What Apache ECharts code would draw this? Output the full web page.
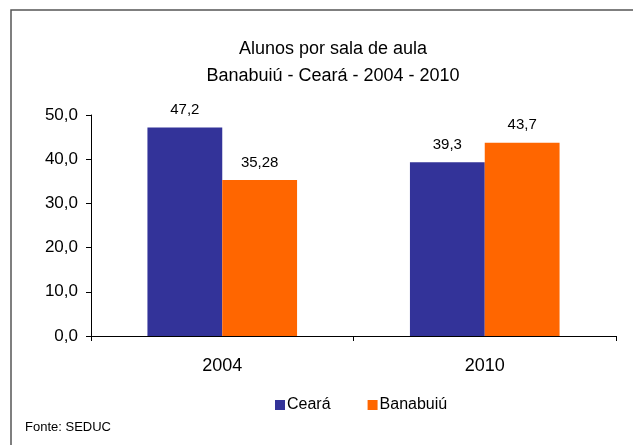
<!DOCTYPE html>
<html>
<head>
<meta charset="utf-8">
<script src="https://cdn.jsdelivr.net/npm/echarts@6/dist/echarts.min.js"></script>
<style>html,body{margin:0;padding:0;background:#fff}#c{width:633px;height:445px}</style>
</head>
<body>
<div id="c"></div>
<script>
const categories = ['2004', '2010'];
const cearaValues = [47.2, 39.3];
const banabuiuValues = [35.28, 43.7];
const cearaLabels = ['47,2', '39,3'];
const banabuiuLabels = ['35,28', '43,7'];
const seriesNames = ['Ceará', 'Banabuiú'];
const titleText = 'Alunos por sala de aula\nBanabuiú - Ceará - 2004 - 2010';
const sourceText = 'Fonte: SEDUC';

const FONT = '"Liberation Sans", Arial, sans-serif';
const chart = echarts.init(document.getElementById('c'));
chart.setOption({
  animation: false,
  backgroundColor: '#fff',
  title: {
    text: titleText,
    left: 328, top: 31, textAlign: 'center',
    textStyle: { fontFamily: FONT, fontSize: 18, fontWeight: 'normal', color: '#000', lineHeight: 27 }
  },
  legend: {
    data: seriesNames, left: 270, top: 392,
    icon: 'rect', itemWidth: 10, itemHeight: 10, itemGap: 37,
    textStyle: { fontFamily: FONT, fontSize: 16, color: '#000', padding: [0, 0, 0, -3] }
  },
  grid: { left: 91, right: 17, top: 115, bottom: 109, containLabel: false },
  xAxis: {
    type: 'category', data: categories,
    axisLine: { lineStyle: { color: '#000', width: 1 } },
    axisTick: { show: true, length: 5, alignWithLabel: false, lineStyle: { color: '#000' } },
    axisLabel: { fontFamily: FONT, fontSize: 18, color: '#000', margin: 21 }
  },
  yAxis: {
    type: 'value', min: 0, max: 50, interval: 10,
    axisLine: { show: true, lineStyle: { color: '#000', width: 1 } },
    axisTick: { show: true, length: 5, lineStyle: { color: '#000' } },
    splitLine: { show: false },
    axisLabel: { fontFamily: FONT, fontSize: 17, color: '#000', margin: 13,
      formatter: v => v.toFixed(1).replace('.', ',') }
  },
  series: [
    { name: seriesNames[0], type: 'bar', data: cearaValues, barGap: '0%', barCategoryGap: '43%',
      itemStyle: { color: '#333399' },
      label: { show: true, position: 'top', distance: 10, fontFamily: FONT, fontSize: 15, color: '#000',
        formatter: p => cearaLabels[p.dataIndex] } },
    { name: seriesNames[1], type: 'bar', data: banabuiuValues, barGap: '0%', barCategoryGap: '43%',
      itemStyle: { color: '#FF6600' },
      label: { show: true, position: 'top', distance: 10, fontFamily: FONT, fontSize: 15, color: '#000',
        formatter: p => banabuiuLabels[p.dataIndex] } }
  ],
  graphic: [
    { type: 'polyline', shape: { points: [[11, 445], [11, 10], [633, 10]] },
      style: { stroke: '#555', lineWidth: 1.5, fill: null }, silent: true },
    { type: 'text', left: 25, top: 421,
      style: { text: sourceText, font: '13px ' + FONT, fill: '#000' } }
  ]
});
</script>
</body>
</html>
